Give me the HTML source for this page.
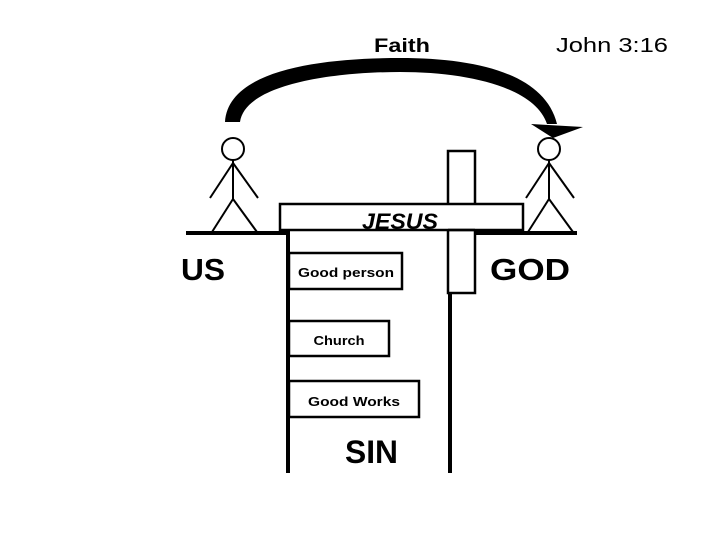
<!DOCTYPE html>
<html><head><style>body{margin:0;background:#fff}svg{display:block}</style></head><body>
<svg width="720" height="540" viewBox="0 0 720 540" xmlns="http://www.w3.org/2000/svg" font-family="Liberation Sans, sans-serif">
<rect width="720" height="540" fill="#fff"/>
<!-- faith arrow -->
<path d="M225,122 C228,70 320,58 400,58 C480,58 545,75 557,124 L547,124 C535,88 470,72 400,72 C330,72 245,85 240,122 Z" fill="#000"/>
<polygon points="531,124 583,127 553,138" fill="#000"/>
<text x="402" y="52" font-size="19" font-weight="bold" text-anchor="middle" textLength="56" lengthAdjust="spacingAndGlyphs">Faith</text>
<text x="556" y="52" font-size="20" textLength="112" lengthAdjust="spacingAndGlyphs">John 3:16</text>
<!-- ground -->
<g stroke="#000" stroke-width="4" fill="none">
<line x1="186" y1="233" x2="290" y2="233"/>
<line x1="448" y1="233" x2="577" y2="233"/>
<line x1="288" y1="233" x2="288" y2="473"/>
<line x1="450" y1="290" x2="450" y2="473"/>
</g>
<!-- stick figures -->
<g stroke="#000" stroke-width="2" fill="none">
<circle cx="233" cy="149" r="11"/>
<line x1="233" y1="160" x2="233" y2="199"/>
<line x1="233" y1="163" x2="210" y2="198"/><line x1="233" y1="163" x2="258" y2="198"/>
<line x1="233" y1="199" x2="212" y2="232"/><line x1="233" y1="199" x2="257" y2="232"/>
<circle cx="549" cy="149" r="11"/>
<line x1="549" y1="160" x2="549" y2="199"/>
<line x1="549" y1="163" x2="526" y2="198"/><line x1="549" y1="163" x2="574" y2="198"/>
<line x1="549" y1="199" x2="528" y2="232"/><line x1="549" y1="199" x2="573" y2="232"/>
</g>
<!-- cross -->
<g stroke="#000" stroke-width="2.5" fill="#fff">
<rect x="448" y="151" width="27" height="142"/>
<rect x="280" y="204" width="243" height="26"/>
<line x1="448" y1="230" x2="475" y2="230" />
</g>
<rect x="449.5" y="205.5" width="24" height="23" fill="#fff"/>
<text x="400" y="229" font-size="22" font-weight="bold" font-style="italic" text-anchor="middle" textLength="76" lengthAdjust="spacingAndGlyphs">JESUS</text>
<!-- boxes -->
<g stroke="#000" stroke-width="2.5" fill="#fff">
<rect x="289" y="253" width="113" height="36"/>
<rect x="289" y="321" width="100" height="35"/>
<rect x="289" y="381" width="130" height="36"/>
</g>
<g font-size="13" font-weight="bold" text-anchor="middle">
<text x="346" y="277" textLength="96" lengthAdjust="spacingAndGlyphs">Good person</text>
<text x="339" y="345" textLength="51" lengthAdjust="spacingAndGlyphs">Church</text>
<text x="354" y="406" textLength="92" lengthAdjust="spacingAndGlyphs">Good Works</text>
</g>
<g font-weight="bold">
<text x="181" y="280" font-size="31" textLength="44" lengthAdjust="spacingAndGlyphs">US</text>
<text x="490" y="280" font-size="31" textLength="80" lengthAdjust="spacingAndGlyphs">GOD</text>
<text x="345" y="463" font-size="32" textLength="53" lengthAdjust="spacingAndGlyphs">SIN</text>
</g>
</svg>
</body></html>
